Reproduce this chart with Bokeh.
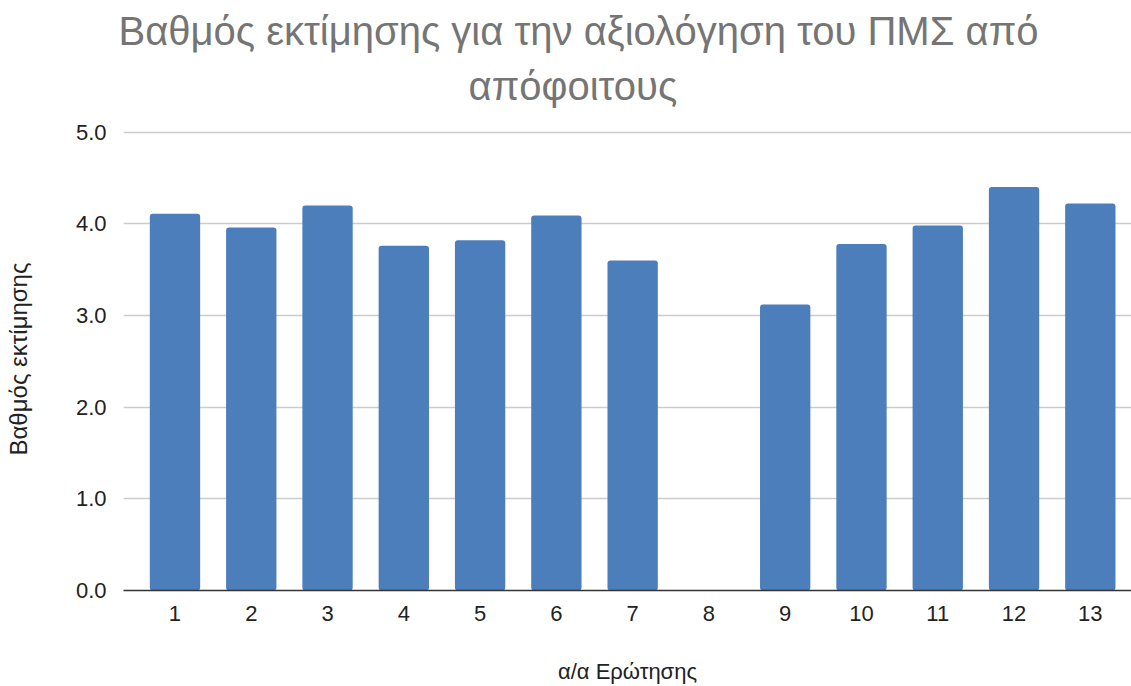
from bokeh.plotting import figure
from bokeh.models import Range1d, FixedTicker, Title
from bokeh.embed import file_html
from bokeh.resources import INLINE

questions = [1, 2, 3, 4, 5, 6, 7, 8, 9, 10, 11, 12, 13]
scores = [4.11, 3.96, 4.20, 3.76, 3.82, 4.09, 3.60, 0.0, 3.12, 3.78, 3.98, 4.40, 4.22]
y_ticks = [0, 1, 2, 3, 4, 5]
y_tick_labels = {0: "0.0", 1: "1.0", 2: "2.0", 3: "3.0", 4: "4.0", 5: "5.0"}
x_tick_labels = {q: str(q) for q in questions}
title_lines = ["Βαθμός εκτίμησης για την αξιολόγηση του ΠΜΣ από", "απόφοιτους"]
x_title = "α/α Ερώτησης"
y_title = "Βαθμός εκτίμησης"

FONT = "Liberation Sans"

p = figure(width=1131, height=686, output_backend="svg", toolbar_location=None,
           x_range=Range1d(0.325, 13.54), y_range=Range1d(0, 5.05),
           min_border_left=123, min_border_right=0, min_border_bottom=96,
           min_border_top=127)
p.title = None
p.outline_line_color = None
p.background_fill_color = "white"
p.border_fill_color = "white"

p.vbar(x=questions, top=scores, width=0.66, bottom=0,
       fill_color="#4d7ebc", line_color=None, border_radius=3)

# title as two centred lines (line 2 added first: closest to the frame)
for txt, stand, off in [(title_lines[1], 40, 345), (title_lines[0], -22, -5)]:
    t = Title(text=txt, align="left", offset=off, text_font=FONT,
              text_font_size="40px", text_font_style="normal",
              text_color="#757575", standoff=stand)
    p.add_layout(t, "above")

# y axis
p.yaxis.ticker = FixedTicker(ticks=y_ticks)
p.yaxis.major_label_overrides = y_tick_labels
p.yaxis.axis_line_color = None
p.yaxis.major_tick_line_color = None
p.yaxis.minor_tick_line_color = None
p.yaxis.major_label_text_font = FONT
p.yaxis.major_label_text_font_size = "22px"
p.yaxis.major_label_text_color = "#222222"
p.yaxis.major_label_standoff = 11
p.yaxis.axis_label = y_title
p.yaxis.axis_label_text_font = FONT
p.yaxis.axis_label_text_font_size = "24px"
p.yaxis.axis_label_text_font_style = "normal"
p.yaxis.axis_label_text_color = "#222222"
p.yaxis.axis_label_standoff = 41

# x axis
p.xaxis.ticker = FixedTicker(ticks=questions)
p.xaxis.major_label_overrides = x_tick_labels
p.xaxis.axis_line_color = "#333333"
p.xaxis.axis_line_width = 1.5
p.xaxis.major_tick_line_color = None
p.xaxis.minor_tick_line_color = None
p.xaxis.major_label_text_font = FONT
p.xaxis.major_label_text_font_size = "22px"
p.xaxis.major_label_text_color = "#222222"
p.xaxis.major_label_standoff = 9
p.xaxis.axis_label = x_title
p.xaxis.axis_label_text_font = FONT
p.xaxis.axis_label_text_font_size = "22px"
p.xaxis.axis_label_text_font_style = "normal"
p.xaxis.axis_label_text_color = "#222222"
p.xaxis.axis_label_standoff = 35

p.xgrid.grid_line_color = None
p.ygrid.ticker = FixedTicker(ticks=y_ticks)
p.ygrid.grid_line_color = "#cccccc"
p.ygrid.grid_line_width = 1.5

open("out.html", "w").write(file_html(p, INLINE))
